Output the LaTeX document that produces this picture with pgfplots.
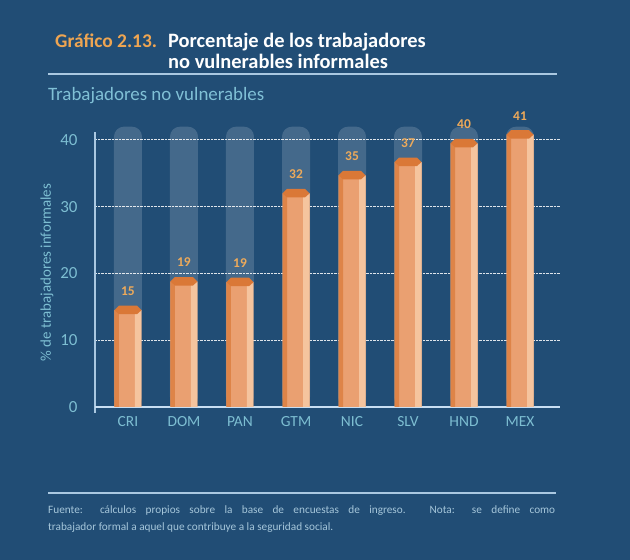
\documentclass[border=0pt]{standalone}
\usepackage{pgfplots}
\pgfplotsset{compat=1.18}
\usepackage{pgfplotstable}
\usepackage{fontspec}
\setmainfont{Carlito}
\definecolor{bg}{RGB}{33,77,117}
\definecolor{orangeT}{RGB}{238,165,82}
\definecolor{subC}{RGB}{128,192,214}
\definecolor{tickC}{RGB}{125,190,210}
\definecolor{lineC}{RGB}{170,200,225}
\definecolor{baseC}{RGB}{200,222,242}
\definecolor{noteC}{RGB}{165,198,218}
\definecolor{barA}{RGB}{222,132,72}
\definecolor{barB}{RGB}{234,160,113}
\definecolor{barC}{RGB}{245,196,158}
\definecolor{capC}{RGB}{218,120,55}
\definecolor{labC}{RGB}{238,170,90}
\pgfdeclareplotmark{cap}{%
  \pgfpathmoveto{\pgfqpoint{-13.5bp}{0bp}}%
  \pgfpathlineto{\pgfqpoint{-9bp}{4.5bp}}%
  \pgfpathlineto{\pgfqpoint{9bp}{4.5bp}}%
  \pgfpathlineto{\pgfqpoint{13.5bp}{0bp}}%
  \pgfpathlineto{\pgfqpoint{9bp}{-4bp}}%
  \pgfpathlineto{\pgfqpoint{-9bp}{-4bp}}%
  \pgfpathclose
  \pgfusepathqfill}
\pgfplotstableread{
x val lab ghost
0 14.5 15 42
1 18.8 19 42
2 18.7 19 42
3 32.0 32 42
4 34.7 35 42
5 36.7 37 42
6 39.5 40 42
7 40.8 41 42
}\data
\begin{document}
\begin{tikzpicture}
\begin{scope}[x=1bp,y=1bp]
\fill[bg] (0,0) rectangle (630,560);
\node[anchor=base west, inner sep=0, font=\bfseries\fontsize{19.5}{22}\selectfont, text=orangeT] at (55,512) {Gráfico 2.13.};
\node[anchor=base west, inner sep=0, font=\bfseries\fontsize{20.5}{24}\selectfont, text=white] at (168,512) {Porcentaje de los trabajadores};
\node[anchor=base west, inner sep=0, font=\bfseries\fontsize{20.5}{24}\selectfont, text=white] at (168,491) {no vulnerables informales};
\draw[lineC, line width=2.5bp] (48,486) -- (557,486);
\node[anchor=base west, inner sep=0, font=\fontsize{19}{21}\selectfont, text=subC] at (48,459) {Trabajadores no vulnerables};
\draw[lineC, line width=2.5bp] (48,67) -- (556,67);
\node[anchor=north west, inner sep=0, text width=507bp, align=justify, font=\fontsize{11.3}{18}\selectfont, text=noteC] at (48,55) {Fuente: cálculos propios sobre la base de encuestas de ingreso. Nota: se define como\linebreak trabajador formal a aquel que contribuye a la seguridad social.};
\end{scope}
\begin{axis}[
  at={(95bp,147bp)}, anchor=south west,
  scale only axis, width=465bp, height=281bp,
  xmin=-0.589, xmax=7.714, ymin=-0.9, ymax=41.2,
  clip=false,
  axis lines*=left,
  x axis line style={draw=none},
  y axis line style={draw=lineC, line width=1.2bp},
  major tick length=0,
  xtick={0,...,7},
  xticklabels={CRI,DOM,PAN,GTM,NIC,SLV,HND,MEX},
  ytick={10,20,30,40},
  extra y ticks={0},
  extra y tick style={ymajorgrids=true, major grid style={solid, line width=2.5bp, color=baseC}},
  ymajorgrids,
  major grid style={densely dotted, line width=1bp, color=white!85!bg},
  /pgf/number format/assume math mode=true,
  ticklabel style={font=\fontsize{15.5}{17}\selectfont, text=tickC},
  yticklabel style={xshift=-14bp, font=\fontsize{17}{19}\selectfont},
  xticklabel style={yshift=0bp},
  ylabel={\% de trabajadores informales},
  every axis y label/.style={at={([xshift=-48bp]rel axis cs:0,0.5)}, rotate=90, anchor=center, font=\fontsize{15}{17}\selectfont, text=tickC},
]
\addplot[ybar, bar shift=0pt, bar width=28bp, draw=none, fill=white, fill opacity=0.16, rounded corners=10bp] table[x=x, y=ghost] {\data};
\addplot[ybar, bar shift=0pt, bar width=27bp, draw=none, fill=barB] table[x=x, y=val] {\data};
\addplot[ybar, bar shift=-11.25bp, bar width=4.5bp, draw=none, fill=barA] table[x=x, y=val] {\data};
\addplot[ybar, bar shift=10.25bp, bar width=6.5bp, draw=none, fill=barC] table[x=x, y=val] {\data};
\addplot[only marks, mark=cap, fill=capC, draw=none, point meta=explicit,
  nodes near coords, nodes near coords style={anchor=south, yshift=11bp, font=\bfseries\fontsize{13.5}{15}\selectfont, text=labC, /pgf/number format/assume math mode=true}]
  table[x=x, y=val, meta=lab] {\data};
\end{axis}
\end{tikzpicture}
\end{document}
